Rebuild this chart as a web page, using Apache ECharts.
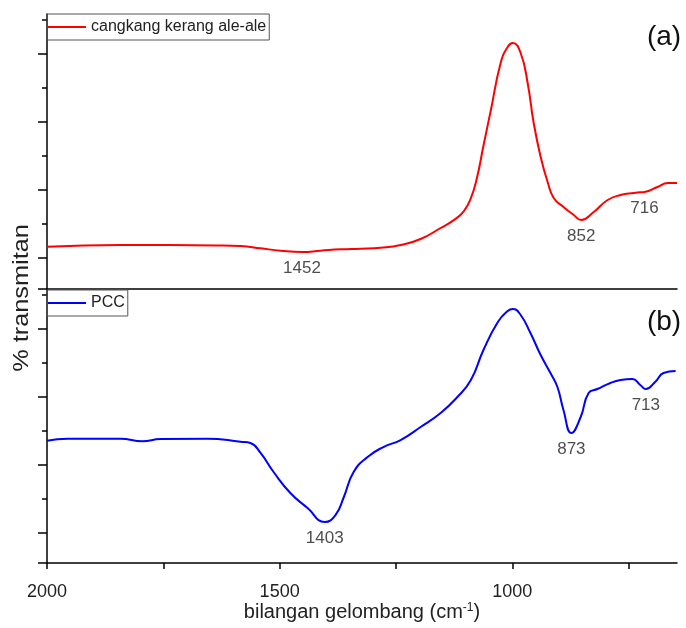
<!DOCTYPE html>
<html>
<head>
<meta charset="utf-8">
<script src="https://cdn.jsdelivr.net/npm/echarts@6/dist/echarts.min.js"></script>
<style>html,body{margin:0;padding:0;background:#fff}#c{width:686px;height:628px}</style>
</head>
<body>
<div id="c"></div>
<script>
// ---- data (top panel a: cangkang kerang ale-ale) ----
const waveA  = [2000,1842,1634,1584,1541,1498,1452,1412,1369,1326,1283,1240,1197,1154,1125,1104,1089,1076,1062,1046,1025,1010,999,982,967,954,939,924,911,890,868,852,825,795,767,739,725,716,688,666,646];
const transA = [3.32,3.82,3.68,3.53,2.85,2.15,1.76,2.15,2.56,2.74,3.03,3.82,5.59,8.82,11.2,13.8,17.6,23.5,33.0,43.53,57.35,62.06,63.24,60.29,51.47,39.71,29.71,22.35,17.65,15.0,12.65,11.18,13.53,17.06,18.53,19.12,19.3,19.41,20.88,22.06,22.06];
// ---- data (bottom panel b: PCC) ----
const waveB  = [2000,1956,1842,1795,1756,1655,1584,1563,1541,1513,1477,1440,1403,1380,1362,1341,1311,1277,1240,1197,1154,1118,1089,1062,1031,1010,999,982,961,939,918,903,890,873,853,836,817,789,767,742,725,713,693,675,649];
const transB = [27.15,27.74,27.74,26.97,27.65,27.74,26.85,26.47,23.53,17.94,11.76,7.35,3.24,5.29,10.59,17.94,22.35,25.29,27.35,31.18,35.29,40.0,45.0,53.82,62.06,65.29,65.88,64.12,58.82,52.35,47.06,42.94,36.18,29.41,34.12,41.18,42.35,44.12,45.0,45.29,43.53,42.35,44.41,47.06,47.65];
// ---- peak annotations ----
const peakWaveA = [1452, 852, 716];
const peakWaveB = [1403, 873, 713];
// ---- axes ----
const xMin = 646, xMax = 2000;
const xTicks = [2000, 1750, 1500, 1250, 1000, 750];
const xLabels = [2000, 1500, 1000];
const yMinA = -9.12, yMaxA = 71.76;
const yMinB = -8.82, yMaxB = 71.76;
const yMajor = [0, 20, 40, 60];
const yMinor = [10, 30, 50, 70];
const seriesNames = ['cangkang kerang ale-ale', 'PCC'];
const panelTags = ['(a)', '(b)'];

const FONT = 'Liberation Sans, Arial, sans-serif';
const zip = (a, b) => a.map((v, i) => [v, b[i]]);
const peakPts = (pw, w, t) => pw.map(p => [p, t[w.indexOf(p)]]);

function yAxes(grid, mn, mx) {
  return [
    { type: 'value', gridIndex: grid, min: mn, max: mx, position: 'left',
      axisLine: { show: true, onZero: false, lineStyle: { color: '#000', width: 1.5 } },
      axisTick: { show: true, length: 9, customValues: [mn].concat(yMajor), lineStyle: { color: '#000', width: 1.5 } },
      axisLabel: { show: false }, splitLine: { show: false } },
    { type: 'value', gridIndex: grid, min: mn, max: mx, position: 'left',
      axisLine: { show: false, onZero: false },
      axisTick: { show: true, length: 5, customValues: yMinor, lineStyle: { color: '#000', width: 1.5 } },
      axisLabel: { show: false }, splitLine: { show: false } }
  ];
}

const chart = echarts.init(document.getElementById('c'), null, { renderer: 'canvas' });
chart.setOption({
  animation: false,
  backgroundColor: '#fff',
  textStyle: { fontFamily: FONT },
  grid: [
    { left: 47, width: 630, top: 14, height: 275 },
    { left: 47, width: 630, top: 289, height: 274 }
  ],
  xAxis: [
    { type: 'value', gridIndex: 0, min: xMin, max: xMax, inverse: true, position: 'bottom',
      axisLine: { show: true, onZero: false, lineStyle: { color: '#000', width: 1.5 } },
      axisTick: { show: false }, axisLabel: { show: false }, splitLine: { show: false } },
    { type: 'value', gridIndex: 1, min: xMin, max: xMax, inverse: true, position: 'bottom',
      axisLine: { show: true, onZero: false, lineStyle: { color: '#000', width: 1.5 } },
      axisTick: { show: true, length: 6, customValues: xTicks, lineStyle: { color: '#000', width: 1.5 } },
      axisLabel: { show: true, customValues: xLabels, fontSize: 18, color: '#222', margin: 20, fontFamily: FONT,
                   formatter: v => String(v) },
      splitLine: { show: false },
      name: '{n|bilangan gelombang (cm}{s|-1}{n|)}',
      nameLocation: 'middle', nameGap: 38,
      nameTextStyle: { rich: {
        n: { fontSize: 20, color: '#222', fontFamily: FONT, lineHeight: 22 },
        s: { fontSize: 12, color: '#222', fontFamily: FONT, verticalAlign: 'top', lineHeight: 22 }
      } } }
  ],
  yAxis: yAxes(0, yMinA, yMaxA).concat(yAxes(1, yMinB, yMaxB)),
  legend: [
    { data: [seriesNames[0]], left: 47, top: 14, orient: 'horizontal',
      borderColor: '#555', borderWidth: 1, padding: [5, 3, 5, 1],
      icon: 'rect', itemWidth: 38, itemHeight: 2,
      textStyle: { fontSize: 16, color: '#222', fontFamily: FONT } },
    { data: [seriesNames[1]], left: 47, top: 290, orient: 'horizontal',
      borderColor: '#555', borderWidth: 1, padding: [5, 3, 5, 1],
      icon: 'rect', itemWidth: 38, itemHeight: 2,
      textStyle: { fontSize: 16, color: '#222', fontFamily: FONT } }
  ],
  series: [
    { name: seriesNames[0], type: 'line', xAxisIndex: 0, yAxisIndex: 0,
      data: zip(waveA, transA), smooth: 0.5, showSymbol: false, symbol: 'none',
      lineStyle: { color: '#ff0000', width: 2 }, itemStyle: { color: '#ff0000' } },
    { name: seriesNames[1], type: 'line', xAxisIndex: 1, yAxisIndex: 2,
      data: zip(waveB, transB), smooth: 0.5, showSymbol: false, symbol: 'none',
      lineStyle: { color: '#0000ff', width: 2 }, itemStyle: { color: '#0000ff' } },
    { type: 'scatter', xAxisIndex: 0, yAxisIndex: 0, symbolSize: 0, silent: true,
      data: peakPts(peakWaveA, waveA, transA),
      label: { show: true, position: 'bottom', distance: 8, formatter: p => String(p.value[0]),
               fontSize: 17, color: '#222', fontFamily: FONT } },
    { type: 'scatter', xAxisIndex: 1, yAxisIndex: 2, symbolSize: 0, silent: true,
      data: peakPts(peakWaveB, waveB, transB),
      label: { show: true, position: 'bottom', distance: 8, formatter: p => String(p.value[0]),
               fontSize: 17, color: '#222', fontFamily: FONT } }
  ],
  graphic: [
    { type: 'text', x: 22, y: 298, rotation: Math.PI / 2, scaleX: 1.15,
      style: { text: '% transmitan', fontSize: 22, fontFamily: FONT, fill: '#222', textAlign: 'center', textVerticalAlign: 'middle' } },
    { type: 'text', x: 664, y: 37,
      style: { text: panelTags[0], fontSize: 28, fontFamily: FONT, fill: '#111', textAlign: 'center', textVerticalAlign: 'middle' } },
    { type: 'text', x: 664, y: 322,
      style: { text: panelTags[1], fontSize: 28, fontFamily: FONT, fill: '#111', textAlign: 'center', textVerticalAlign: 'middle' } }
  ]
});
</script>
</body>
</html>
